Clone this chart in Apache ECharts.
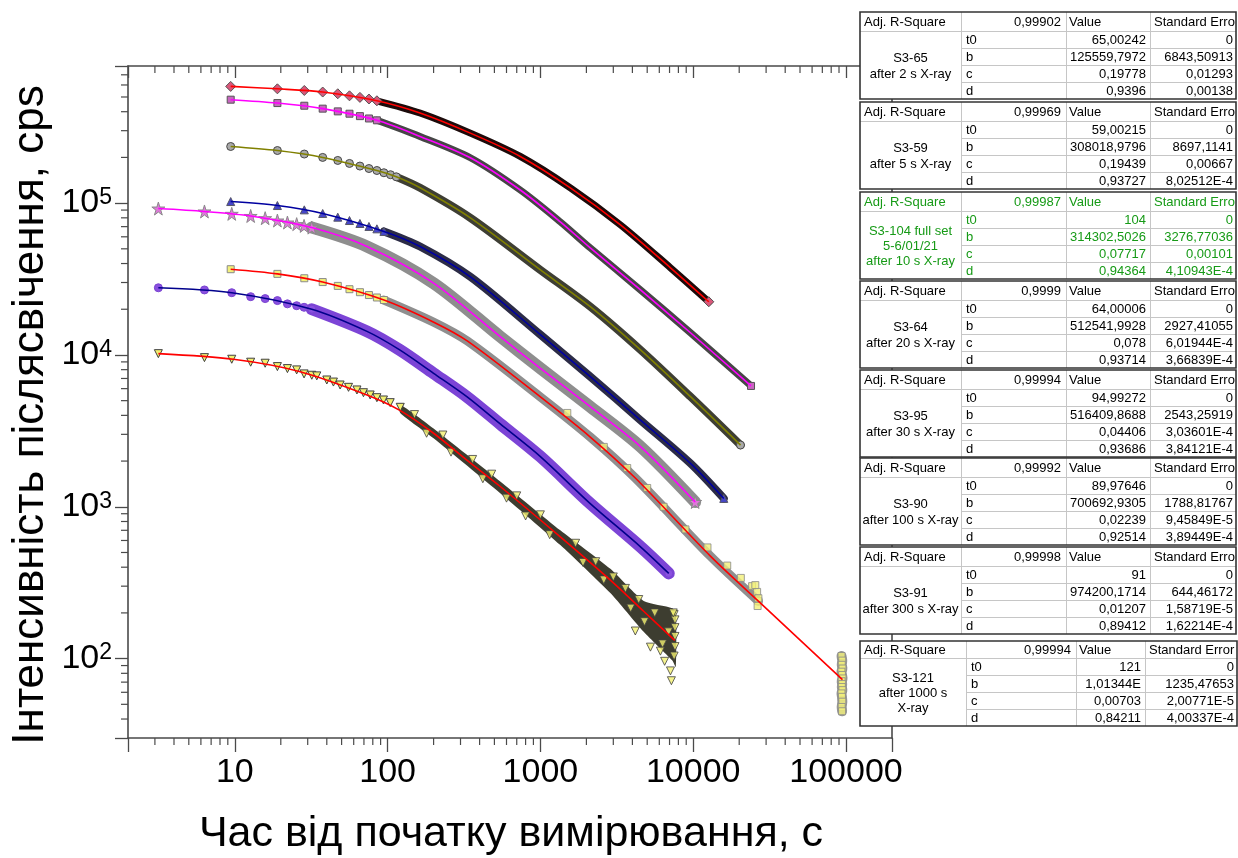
<!DOCTYPE html>
<html>
<head>
<meta charset="utf-8">
<title>Afterglow decay</title>
<script src="https://cdn.jsdelivr.net/npm/echarts@6/dist/echarts.min.js"></script>
<style>
html, body { margin:0; padding:0; background:#ffffff; }
#chart { width:1238px; height:858px; }
</style>
</head>
<body>
<div id="chart"></div>
<script>
// ---------------- axes ----------------
const X_MIN = 2, X_MAX = 200000;
const Y_MIN = 30, Y_MAX = 800000;
const xMinorTicks = [3,4,5,6,7,8,9, 20,30,40,50,60,70,80,90, 200,300,400,500,600,700,800,900,
  2000,3000,4000,5000,6000,7000,8000,9000, 20000,30000,40000,50000,60000,70000,80000,90000];
const yMinorTicks = [40,50,60,70,80,90, 200,300,400,500,600,700,800,900,
  2000,3000,4000,5000,6000,7000,8000,9000, 20000,30000,40000,50000,60000,70000,80000,90000,
  200000,300000,400000,500000,600000,700000];
const xTitle = 'Час від початку вимірювання, с';
const yTitle = 'Інтенсивність післясвічення, cps';

// ---------------- fit tables ----------------
const sampleNames = ['S3-65\nafter 2 s X-ray', 'S3-59\nafter 5 s X-ray', 'S3-104 full set\n5-6/01/21\nafter 10 s X-ray',
  'S3-64\nafter 20 s X-ray', 'S3-95\nafter 30 s X-ray', 'S3-90\nafter 100 s X-ray', 'S3-91\nafter 300 s X-ray', 'S3-121\nafter 1000 s\nX-ray'];
const adjR2 = ['0,99902','0,99969','0,99987','0,9999','0,99994','0,99992','0,99998','0,99994'];
const paramNames = ['t0','b','c','d'];
const t0Val = ['65,00242','59,00215','104','64,00006','94,99272','89,97646','91','121'];
const t0Err = ['0','0','0','0','0','0','0','0'];
const bVal = ['125559,7972','308018,9796','314302,5026','512541,9928','516409,8688','700692,9305','974200,1714','1,01344E'];
const bErr = ['6843,50913','8697,1141','3276,77036','2927,41055','2543,25919','1788,81767','644,46172','1235,47653'];
const cVal = ['0,19778','0,19439','0,07717','0,078','0,04406','0,02239','0,01207','0,00703'];
const cErr = ['0,01293','0,00667','0,00101','6,01944E-4','3,03601E-4','9,45849E-5','1,58719E-5','2,00771E-5'];
const dVal = ['0,9396','0,93727','0,94364','0,93714','0,93686','0,92514','0,89412','0,84211'];
const dErr = ['0,00138','8,02512E-4','4,10943E-4','3,66839E-4','3,84121E-4','3,89449E-4','1,62214E-4','4,00337E-4'];
const headLabel = 'Adj. R-Square';
const headValue = 'Value';
const headErr = ['Standard Erro','Standard Erro','Standard Erro','Standard Erro','Standard Erro','Standard Erro','Standard Erro','Standard Error'];

// ---------------- data ----------------
// S3-65, 2 s
const m1x = [9.4, 19.0, 28.5, 37.6, 47.2, 56.3, 65.9, 75.5, 85.1];
const m1y = [587000, 566000, 552000, 539000, 525000, 509000, 497000, 485000, 472000];
const c1x = [9.4, 19.0, 37.6, 85.1, 163, 348, 738, 1570, 3340, 7100, 12650];
const c1y = [587000, 566000, 539000, 472000, 392000, 289000, 203000, 126000, 71900, 37500, 22400];
// S3-59, 5 s
const m2x = [9.4, 19.0, 28.5, 37.6, 47.2, 56.3, 65.9, 75.5, 85.1];
const m2y = [480000, 456000, 438000, 419000, 402000, 388000, 374000, 361000, 351000];
const c2x = [9.4, 19.0, 37.6, 85.1, 163, 348, 738, 1350, 2120, 4520, 9600, 23900];
const c2y = [480000, 456000, 419000, 351000, 275000, 199000, 122000, 75300, 50700, 26800, 14000, 6250];
// S3-104, 10 s
const m3x = [9.4, 19.0, 28.5, 37.6, 47.2, 56.3, 65.9, 75.5, 85.1, 94.6, 104.5, 114];
const m3y = [236000, 222000, 210500, 200000, 191000, 182500, 175400, 169000, 164000, 158500, 153800, 149000];
const c3x = [9.4, 19.0, 37.6, 85.1, 114, 163, 348, 1000, 2120, 4520, 9600, 20400];
const c3y = [236000, 222000, 200000, 164000, 149000, 126200, 80000, 36300, 20800, 10800, 5310, 2550];
// S3-64, 20 s
const m4x = [9.4, 19.0, 28.5, 37.6, 47.2, 56.3, 65.9, 75.5, 85.1, 94.6];
const m4y = [102400, 96400, 90300, 85400, 80800, 76800, 73400, 70200, 67700, 65100];
const c4x = [9.4, 19.0, 37.6, 94.6, 163, 348, 1000, 2120, 4520, 9600, 15850];
const c4y = [102400, 96400, 85400, 65100, 51800, 32700, 13600, 7200, 3720, 1930, 1135];
// S3-95, 30 s
const m5x = [3.16, 6.33, 9.55, 12.7, 15.8, 19.0, 22.1, 25.4, 28.4, 31.9];
const m5y = [92100, 88100, 85000, 82300, 79600, 76800, 74500, 72700, 70800, 69000];
const c5x = [3.16, 6.33, 12.7, 31.9, 73.3, 200, 546, 1000, 2120, 4520, 10300];
const c5y = [92100, 88100, 82300, 69000, 51800, 29700, 13200, 8170, 4560, 2490, 1075];
// S3-121, 1000 s
const m6x = [9.4, 19.0, 28.5, 37.6, 47.2, 56.3, 65.9, 75.5, 85.1, 94.6];
const m6y = [36700, 34200, 32000, 30200, 28500, 27100, 25900, 24800, 23900, 23000];
const c6x = [9.4, 19.0, 37.6, 94.6, 199, 332, 1000, 2120, 4180, 12960, 26700];
const c6y = [36700, 34200, 30200, 23000, 16500, 12370, 5290, 2880, 1546, 473, 239];
const f6x = [26700, 94800];
const f6y = [239, 72.8];
const e6x = [1500, 2600, 3700, 5000, 6400, 8900, 12400, 16700, 20500, 24300, 26200, 26700, 26400, 25500];
const e6y = [4150, 2480, 1800, 1330, 1000, 710, 540, 410, 340, 300, 275, 250, 222, 305];
const k6x = [93500, 94500, 93800, 94800, 93300, 94200, 95000, 93600, 94400, 93900, 94700, 93400, 94100, 94600, 93700, 94300];
const k6y = [104, 97, 91, 86, 82, 78, 74, 71, 68, 65, 62, 59, 56, 52, 48, 45];
// S3-90, 100 s
const m7x = [3.16, 6.33, 9.55, 12.7, 15.8, 19.0, 22.1, 25.4, 28.4, 31.9];
const m7y = [27700, 26800, 25700, 24200, 23500, 22800, 21700, 21100, 20600, 20000];
const c7x = [3.16, 9.55, 31.9, 73.3, 120, 200, 330, 546, 1000, 2120, 4520, 6920];
const c7y = [27700, 25700, 20000, 14300, 10800, 7570, 5310, 3510, 2140, 1050, 545, 364];
// S3-91, 300 s
const m8x = [3.16, 6.33, 9.55, 12.7, 15.8, 19.0, 22.1, 25.4, 28.4, 31.9, 34.4, 40.0, 44.2, 48.9, 55.5, 63.0, 69.5, 76.9, 85.1, 94.0, 104, 121];
const m8y = [10200, 9600, 9370, 8960, 8820, 8380, 8130, 7970, 7500, 7350, 7280, 6840, 6630, 6340, 6120, 5880, 5640, 5450, 5230, 5050, 4850, 4520];
const c8x = [3.16, 9.8, 26.8, 73.3, 121, 200, 330, 546, 1350, 2870, 4740, 7570];
const c8y = [10200, 9370, 7760, 5450, 4300, 3050, 2030, 1360, 634, 329, 205, 132];
const u8x = [121, 200, 546, 1350, 2870, 4740, 7300, 7700];
const u8y = [4700, 3280, 1470, 700, 390, 240, 215, 195];
const l8x = [121, 200, 546, 1350, 2870, 4740, 7300, 7700];
const l8y = [4150, 2830, 1230, 560, 270, 150, 97, 88];
const n8x = [150, 230, 360, 480, 700, 1000, 1700, 2300, 3000, 3600, 4400, 5600, 7500,
  180, 260, 420, 600, 800, 1150, 1900, 2600, 3900, 4800, 6300,
  4180, 5250, 6100, 6500, 7100, 7200, 7600, 7600, 7600, 7600, 7500, 7400, 6900];
const n8y = [4050, 2970, 2050, 1640, 1180, 885, 575, 435, 345, 290, 245, 200, 195,
  3050, 2290, 1530, 1140, 870, 655, 430, 330, 215, 175, 125,
  152, 119, 112, 96, 83, 71.5, 180, 160, 140, 120, 104, 200, 150];

// ---------------- build ----------------
const FONT = '"Liberation Sans", Arial, sans-serif';
const AX = '#4a4a4a';
const zip = (xs, ys) => xs.map((x, i) => [x, ys[i]]);
const pow10Exp = v => { const e = Math.log10(v); const r = Math.round(e); return Math.abs(e - r) < 1e-6 ? r : null; };
const STAR = 'path://M50,0 L61,35 L98,35 L68,57 L79,91 L50,70 L21,91 L32,57 L2,35 L39,35 Z';

const specs = [
  {mx:m1x, my:m1y, cx:c1x, cy:c1y, fit:'#ff0000', band:'#1c0b0b', bandW:7,  sym:'diamond', size:10, fill:'#d9587a', border:'#555555'},
  {mx:m2x, my:m2y, cx:c2x, cy:c2y, fit:'#ff00ff', band:'#464646', bandW:7,  sym:'rect',    size:7,  fill:'#c866c0', border:'#555555'},
  {mx:m3x, my:m3y, cx:c3x, cy:c3y, fit:'#808000', band:'#3e3e34', bandW:8,  sym:'circle',  size:8,  fill:'#a9a9a9', border:'#474747'},
  {mx:m4x, my:m4y, cx:c4x, cy:c4y, fit:'#0000a0', band:'#2c2c46', bandW:8,  sym:'triangle',size:8,  fill:'#4646c8', border:'#555566'},
  {mx:m5x, my:m5y, cx:c5x, cy:c5y, fit:'#ff00ff', band:'#8e8e8e', bandW:12, sym:STAR,      size:13, fill:'#dd7ad8', border:'#8a8a8a'},
  {mx:m6x, my:m6y, cx:c6x, cy:c6y, fit:'#ff0000', band:'#8f8f8f', bandW:9,  sym:'rect',    size:7,  fill:'#f2f07a', border:'#8a8a8a', ext:[f6x, f6y]},
  {mx:m7x, my:m7y, cx:c7x, cy:c7y, fit:'#00008c', band:'#7c44d6', bandW:12, sym:'circle',  size:8,  fill:'#8a50e0', border:'#7a44d0'},
  {mx:m8x, my:m8y, cx:c8x, cy:c8y, fit:'#ff0000', band:null,      bandW:0,  sym:'triangle',size:8,  fill:'#f2f070', border:'#404040', rot:180}
];

const series = [];
specs.forEach((s, i) => {
  const lastMarkX = s.mx[s.mx.length - 1];
  const curve = zip(s.cx, s.cy);
  if (s.band) {
    series.push({type:'line', data: curve.filter(p => p[0] >= lastMarkX), smooth:0.3, showSymbol:false, silent:true, z:2,
      lineStyle:{color:s.band, width:s.bandW, cap:'round', join:'round'}});
  }
  const marks = zip(s.mx, s.my).concat(s.band ? [curve[curve.length - 1]] : []);
  series.push({type:'scatter', data: marks, symbol:s.sym, symbolSize:s.size, symbolRotate:s.rot || 0, silent:true, z:3,
    itemStyle:{color:s.fill, borderColor:s.border, borderWidth:1, opacity:1}});
  const fitData = s.ext ? curve.concat(zip(s.ext[0], s.ext[1]).slice(1)) : curve;
  series.push({type:'line', data: fitData, smooth:0.3, showSymbol:false, silent:true, z:4,
    lineStyle:{color:s.fit, width:1.6}});
});

// S3-121: grey column at the last time point and scattered yellow squares
series.push({type:'line', data: zip(k6x, k6y), showSymbol:false, silent:true, z:2,
  lineStyle:{color:'#999999', width:10, cap:'round'}});
series.push({type:'scatter', data: zip(k6x, k6y).concat(zip(e6x, e6y)), symbol:'rect', symbolSize:7, silent:true, z:3,
  itemStyle:{color:'#f2f07a', borderColor:'#8a8a8a', borderWidth:1}});
// S3-91: dense dark band with scattered triangles
series.push({type:'custom', silent:true, z:2, clip:false, data:[[u8x[0], u8y[0]]],
  renderItem: (params, api) => {
    const up = u8x.map((x, i) => api.coord([x, u8y[i]]));
    const lo = l8x.map((x, i) => api.coord([x, l8y[i]])).reverse();
    return {type:'polygon', shape:{points: up.concat(lo), smooth:0.2}, style:{fill:'#3d3d30'}};
  }});
series.push({type:'scatter', data: zip(n8x, n8y), symbol:'triangle', symbolRotate:180, symbolSize:8, silent:true, z:3,
  itemStyle:{color:'#f2f070', borderColor:'#404040', borderWidth:1}});

// minor ticks drawn through the axes' own scales
series.push({type:'custom', silent:true, z:5, clip:false, data: xMinorTicks.map(v => [v, Y_MIN]),
  renderItem: (params, api) => {
    const v = api.value(0);
    const b = api.coord([v, Y_MIN]), t = api.coord([v, Y_MAX]);
    const st = {stroke:AX, lineWidth:1.2};
    return {type:'group', children:[
      {type:'line', shape:{x1:b[0], y1:b[1], x2:b[0], y2:b[1] + 7}, style:st},
      {type:'line', shape:{x1:t[0], y1:t[1], x2:t[0], y2:t[1] + 7}, style:st}
    ]};
  }});
series.push({type:'custom', silent:true, z:5, clip:false, data: yMinorTicks.map(v => [X_MIN, v]),
  renderItem: (params, api) => {
    const v = api.value(1);
    const l = api.coord([X_MIN, v]);
    return {type:'line', shape:{x1:l[0], y1:l[1], x2:l[0] - 7, y2:l[1]}, style:{stroke:AX, lineWidth:1.2}};
  }});

// ---------------- tables ----------------
const TABLE_TOPS = [12, 102, 192, 281, 370, 458, 547, 641];
const COLS_A = [860, 961, 1066, 1150, 1236];
const COLS_B = [860, 966, 1076, 1145, 1237];
const TFONT = '13px "Liberation Sans", Arial, sans-serif';
const graphics = [];
function txt(text, x, y, align, color) {
  return {type:'text', z:101, x:x, y:y, silent:true,
    style:{text:text, x:0, y:0, font:TFONT, fill:color, textAlign:align, textVerticalAlign:'middle', verticalAlign:'middle'}};
}
function ln(x1, y1, x2, y2, color, w) {
  return {type:'line', z:100, silent:true, shape:{x1:x1, y1:y1, x2:x2, y2:y2}, style:{stroke:color, lineWidth:w || 1}};
}
for (let i = 0; i < 8; i++) {
  const last = i === 7;
  const cols = last ? COLS_B : COLS_A;
  const top = TABLE_TOPS[i];
  const hh = last ? 17 : 19, rh = 17;
  const h = hh + 4 * rh;
  const color = i === 2 ? '#169a16' : '#000000';
  const gridC = '#c6c6c6';
  graphics.push({type:'rect', z:99, silent:true, shape:{x:cols[0], y:top, width:cols[4] - cols[0], height:h}, style:{fill:'#ffffff'}});
  graphics.push(ln(cols[0], top + hh + 0.5, cols[4], top + hh + 0.5, gridC));
  for (let r = 1; r < 4; r++) graphics.push(ln(cols[1], top + hh + r * rh + 0.5, cols[4], top + hh + r * rh + 0.5, gridC));
  for (let c = 1; c < 4; c++) graphics.push(ln(cols[c] + 0.5, top, cols[c] + 0.5, top + h, gridC));
  graphics.push({type:'rect', z:100, silent:true, shape:{x:cols[0], y:top, width:cols[4] - cols[0], height:h},
    style:{fill:null, stroke:'#333333', lineWidth:1.6}});
  const hy = top + hh / 2 + 0.5;
  graphics.push(txt(headLabel, cols[0] + 4, hy, 'left', color));
  graphics.push(txt(adjR2[i], cols[2] - 5, hy, 'right', color));
  graphics.push(txt(headValue, cols[2] + 3, hy, 'left', color));
  graphics.push(txt(headErr[i], cols[3] + 4, hy, 'left', color));
  const vals = [t0Val[i], bVal[i], cVal[i], dVal[i]];
  const errs = [t0Err[i], bErr[i], cErr[i], dErr[i]];
  for (let r = 0; r < 4; r++) {
    const ry = top + hh + r * rh + rh / 2 + 0.5;
    graphics.push(txt(paramNames[r], cols[1] + 5, ry, 'left', color));
    graphics.push(txt(vals[r], cols[3] - 4, ry, 'right', color));
    graphics.push(txt(errs[r], cols[4] - 3, ry, 'right', color));
  }
  const nameLines = sampleNames[i].split('\n').length;
  graphics.push({type:'text', z:101, silent:true, x:(cols[0] + cols[1]) / 2, y: top + hh + 2 * rh + 1,
    style:{text:sampleNames[i], x:0, y:0, font:TFONT, fill:color, textAlign:'center', textVerticalAlign:'middle', verticalAlign:'middle',
      lineHeight: nameLines > 2 ? 15 : 16}});
}
// axis titles
graphics.push({type:'text', z:50, silent:true, x:511, y:834,
  style:{text:xTitle, x:0, y:0, font:'43px "Liberation Sans", Arial, sans-serif', fill:'#000', textAlign:'center', textVerticalAlign:'middle', verticalAlign:'middle'}});
graphics.push({type:'text', z:50, silent:true, x:31, y:415, rotation:Math.PI / 2,
  style:{text:yTitle, x:0, y:0, font:'44px "Liberation Sans", Arial, sans-serif', fill:'#000', textAlign:'center', textVerticalAlign:'middle', verticalAlign:'middle'}});

const axisLineStyle = {color:AX, width:1.6};
const option = {
  animation:false,
  backgroundColor:'#ffffff',
  grid:{left:128, top:66, width:764, height:672, containLabel:false},
  xAxis:[
    {type:'log', logBase:10, min:X_MIN, max:X_MAX, position:'bottom',
      axisLine:{show:true, onZero:false, lineStyle:axisLineStyle},
      axisTick:{show:true, inside:false, length:14, lineStyle:{color:AX, width:1.3}},
      axisLabel:{show:true, margin:18, fontFamily:FONT, fontSize:34, color:'#000',
        formatter: v => { const e = pow10Exp(v); return e === null ? '' : String(Math.round(Math.pow(10, e))); }},
      splitLine:{show:false}, minorTick:{show:false}},
    {type:'log', logBase:10, min:X_MIN, max:X_MAX, position:'top',
      axisLine:{show:true, onZero:false, lineStyle:axisLineStyle},
      axisTick:{show:true, inside:true, length:12, lineStyle:{color:AX, width:1.3}},
      axisLabel:{show:false}, splitLine:{show:false}}
  ],
  yAxis:[
    {type:'log', logBase:10, min:Y_MIN, max:Y_MAX, position:'left',
      axisLine:{show:true, onZero:false, lineStyle:axisLineStyle},
      axisTick:{show:true, inside:false, length:13, lineStyle:{color:AX, width:1.3}},
      axisLabel:{show:true, margin:16, color:'#000',
        formatter: v => { const e = pow10Exp(v); return e === null ? '' : '{b|10}{s|' + e + '}'; },
        rich:{
          b:{fontFamily:FONT, fontSize:34, lineHeight:34, color:'#000'},
          s:{fontFamily:FONT, fontSize:23, lineHeight:18, verticalAlign:'top', color:'#000'}
        }},
      splitLine:{show:false}},
    {type:'log', logBase:10, min:Y_MIN, max:Y_MAX, position:'right',
      axisLine:{show:true, onZero:false, lineStyle:axisLineStyle},
      axisTick:{show:false}, axisLabel:{show:false}, splitLine:{show:false}}
  ],
  graphic:{elements:graphics},
  series:series
};
const chart = echarts.init(document.getElementById('chart'), null, {renderer:'canvas'});
chart.setOption(option);
</script>
</body>
</html>
